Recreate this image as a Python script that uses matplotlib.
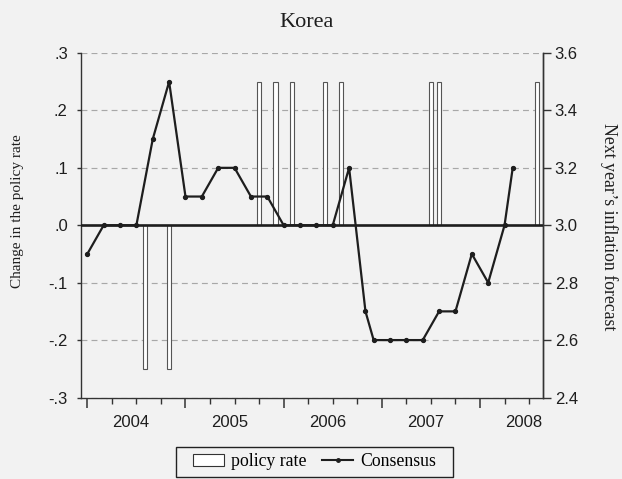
import numpy as np
import matplotlib
matplotlib.use("Agg")
import matplotlib.pyplot as plt
from matplotlib.patches import Patch
from matplotlib.lines import Line2D
from matplotlib.path import Path

# Consensus forecast of next year's inflation (right axis)
cons_dates = ["2004-01", "2004-03", "2004-05", "2004-07", "2004-09", "2004-11",
              "2005-01", "2005-03", "2005-05", "2005-07", "2005-09", "2005-11",
              "2006-01", "2006-03", "2006-05", "2006-07", "2006-09", "2006-11",
              "2006-12", "2007-02", "2007-04", "2007-06", "2007-08", "2007-10",
              "2007-12", "2008-02", "2008-04", "2008-05"]
cons_vals = [2.9, 3.0, 3.0, 3.0, 3.3, 3.5,
             3.1, 3.1, 3.2, 3.2, 3.1, 3.1,
             3.0, 3.0, 3.0, 3.0, 3.2, 2.7,
             2.6, 2.6, 2.6, 2.6, 2.7, 2.7,
             2.9, 2.8, 3.0, 3.2]

# Bank of Korea policy rate changes (left axis)
rate_dates = ["2004-08", "2004-11", "2005-10", "2005-12", "2006-02",
              "2006-06", "2006-08", "2007-07", "2007-08", "2008-08"]
rate_changes = [-0.25, -0.25, 0.25, 0.25, 0.25, 0.25, 0.25, 0.25, 0.25, 0.25]

years = [2004, 2005, 2006, 2007, 2008]
left_ticks = [-0.3, -0.2, -0.1, 0.0, 0.1, 0.2, 0.3]
left_labels = ["-.3", "-.2", "-.1", ".0", ".1", ".2", ".3"]
right_ticks = [2.4, 2.6, 2.8, 3.0, 3.2, 3.4, 3.6]


def month_index(s):
    # months since Jan 2004
    y, m = s.split("-")
    return (int(y) - 2004) * 12 + int(m) - 1


def wide_box(x0, y0, width, height, mutation_size):
    # legend frame with extra room left and right only
    p = 0.6 * mutation_size
    return Path([(x0 - p, y0), (x0 + width + p, y0), (x0 + width + p, y0 + height),
                 (x0 - p, y0 + height), (x0 - p, y0)], closed=True)


bg = "#f2f2f2"
ink = "#1e1e1e"
serif = "Liberation Serif"
sans = "Liberation Sans"

cons_x = [month_index(d) for d in cons_dates]
rate_x = [month_index(d) for d in rate_dates]

fig = plt.figure(figsize=(6.22, 4.79), dpi=100, facecolor=bg)
ax = fig.add_axes([81 / 622, 1 - 397.5 / 479, 462 / 622, 344.5 / 479])
ax.set_facecolor(bg)
ax2 = ax.twinx()

# bars + zero line on the left axis
ax.bar(rate_x, rate_changes, width=0.5, facecolor="white",
       edgecolor="#555555", linewidth=0.8, zorder=2)
ax.axhline(0, color=ink, lw=1.9, zorder=3)
ax.set_ylim(-0.3, 0.3)
ax.set_xlim(-0.77, 55.7)
ax.set_axisbelow(True)
ax.grid(axis="y", color="#a8a8a8", lw=0.85, linestyle=(0, (5, 3.5)))

ax.set_yticks(left_ticks, left_labels)
ax.tick_params(axis="y", length=3, width=1, color="#333333", pad=6.5,
               labelsize=12, labelcolor=ink)
for t in ax.get_yticklabels():
    t.set_fontfamily(sans)

# x axis: long ticks at January, short ticks every quarter
ax.set_xticks([month_index(f"{y}-01") for y in years])
ax.set_xticks(np.arange(0, 56, 3), minor=True)
ax.tick_params(axis="x", which="major", length=7, width=1.1, color="#333333",
               labelbottom=False)
ax.tick_params(axis="x", which="minor", length=4.3, width=1, color="#333333")

sec = ax.secondary_xaxis("bottom")
sec.set_xticks([month_index(f"{y}-01") + 5.35 for y in years],
               [str(y) for y in years])
sec.tick_params(length=0, pad=12.5, labelsize=12, labelcolor=ink)
sec.spines["bottom"].set_visible(False)
for t in sec.get_xticklabels():
    t.set_fontfamily(sans)

for s in ["left", "right", "bottom"]:
    ax.spines[s].set_color("#333333")
    ax.spines[s].set_linewidth(1.0)
ax.spines["top"].set_visible(False)

# consensus line on the right axis
ax2.plot(cons_x, cons_vals, color=ink, lw=1.6, marker="o", markersize=2.8,
         zorder=4)
ax2.set_ylim(2.4, 3.6)
ax2.set_yticks(right_ticks, [f"{v:.1f}" for v in right_ticks])
ax2.tick_params(axis="y", length=6, width=1, color="#333333", pad=2.4,
                labelsize=12, labelcolor=ink)
for t in ax2.get_yticklabels():
    t.set_fontfamily(sans)
ax2.spines["top"].set_visible(False)
ax2.spines["right"].set_color("#333333")
ax2.spines["right"].set_linewidth(1.0)
ax2.spines["left"].set_visible(False)
ax2.spines["bottom"].set_visible(False)

fig.text(306.7 / 622, 1 - 26.7 / 479, "Korea", ha="center", va="baseline",
         family=serif, size=16, color=ink)
fig.text(18 / 622, 1 - 211 / 479, "Change in the policy rate", rotation=90,
         ha="center", va="center", family=serif, size=11, color=ink)
fig.text(609 / 622, 1 - 226.5 / 479, "Next year\u2019s inflation forecast",
         rotation=270, ha="center", va="center", family=serif, size=12.8,
         color=ink)

handles = [Patch(facecolor="white", edgecolor="#333333", lw=0.8),
           Line2D([], [], color=ink, lw=1.5, marker="o", markersize=2.5)]
leg = fig.legend(handles, ["policy rate", "Consensus"], loc="center",
                 bbox_to_anchor=(314.5 / 622, 1 - 462 / 479), ncol=2,
                 frameon=True, fancybox=False, edgecolor="#222222",
                 facecolor=bg, framealpha=1, borderpad=0.35,
                 handlelength=1.75, handleheight=0.66, handletextpad=0.38,
                 columnspacing=0.9, prop={"family": serif, "size": 12.8})
leg.get_frame().set_linewidth(1.0)
leg.get_frame().set_boxstyle(wide_box)

fig.savefig("out.png", dpi=100, facecolor=bg)
